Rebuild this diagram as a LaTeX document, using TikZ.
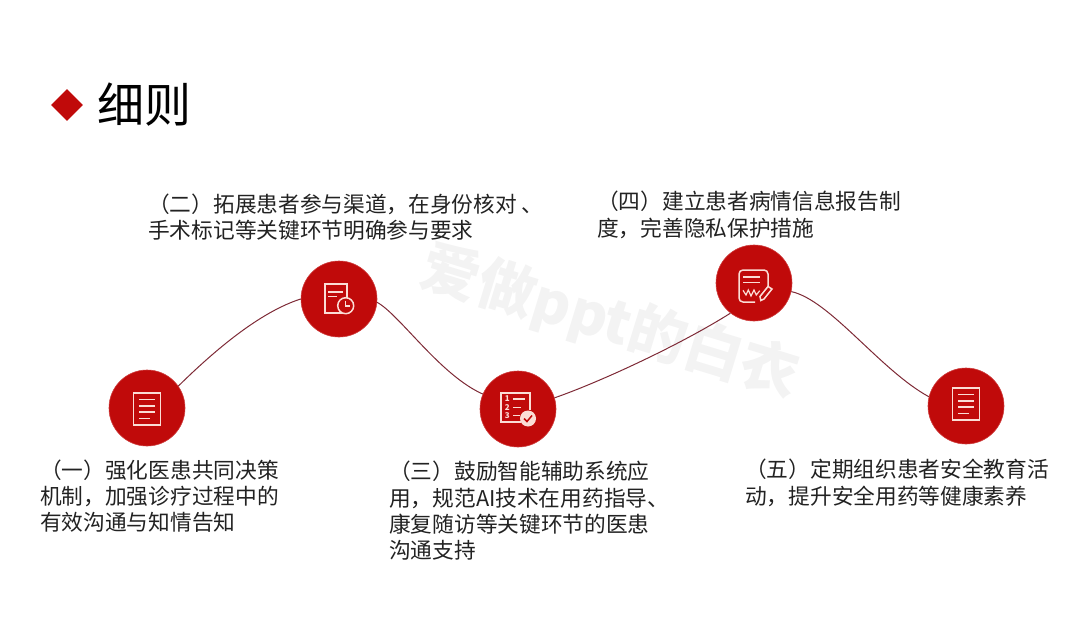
\documentclass[tikz,border=0pt]{standalone}
\usepackage{fontspec}
\setmainfont{Noto Sans CJK SC}
\usetikzlibrary{shapes.geometric}
\definecolor{deepred}{HTML}{C00A0A}
\definecolor{paleline}{HTML}{FBDDD6}
\definecolor{curvered}{HTML}{7E2A36}
\definecolor{bodyink}{HTML}{222222}
\definecolor{markgray}{HTML}{F3F3F3}
\tikzset{
	stepdot/.style = {circle, fill = deepred, draw = deepred!80!white, line width = 0.6pt, minimum size = 76pt, inner sep = 0pt},
	bodytext/.style = {anchor = west, align = left, inner sep = 0pt, text = bodyink, font = \fontsize{21.7}{26.3}\selectfont},
	curveline/.style = {draw = curvered, line width = 1pt},
	iconline/.style = {draw = paleline, line width = 1.5pt},
	listicon/.pic = {
		\draw [iconline] (-13.5,-16) rectangle (13.5,16);
		\draw [iconline, line width = 1.9pt] (-8,-9.5) -- (8,-9.5);
		\draw [iconline, line width = 1.9pt] (-8,-3.2) -- (8,-3.2);
		\draw [iconline, line width = 1.9pt] (-8,3.2) -- (8,3.2);
		\draw [iconline, line width = 1.9pt] (-8,9.5) -- (3,9.5);
	}
}
\begin{document}
\begin{tikzpicture} [x = 1pt, y = -1pt]
	\useasboundingbox (0,0) rectangle (1080,623);
	% watermark
	\node (mark) [rotate = -17, text = markgray, font = \fontsize{58}{58}\selectfont\bfseries, inner sep = 0pt] at (610,322) {爱做ppt的白衣};
	% title
	\node (bullet) [diamond, fill = deepred, minimum size = 32pt, inner sep = 0pt] at (67,105) {};
	\node (title) [anchor = west, inner sep = 0pt, text = black, font = \fontsize{47}{47}\selectfont] at (97,105) {细则};
	% steps
	\node (step1) [stepdot] at (147,408) {};
	\node (step2) [stepdot] at (339,299) {};
	\node (step3) [stepdot] at (518,409) {};
	\node (step4) [stepdot] at (754,283) {};
	\node (step5) [stepdot] at (966,406) {};
	\draw [curveline] (step1.35) .. controls (215,350) and (260,312) .. (step2.180);
	\draw [curveline] (step2.-5) .. controls (400,315) and (440,375) .. (step3.157);
	\draw [curveline] (step3.17) .. controls (600,382) and (680,345) .. (step4.232);
	\draw [curveline] (step4.-13) .. controls (830,300) and (880,370) .. (step5.166);
	% icons
	\pic at (147,409) {listicon};
	\pic at (966,404) {listicon};
	\scope [shift = {(339,299)}]
		\draw [iconline] (-14,-15) rectangle (8,14);
		\draw [iconline] (-11,-7) -- (4,-7);
		\draw [iconline] (-11,-2.3) -- (-2,-2.3);
		\draw [iconline, fill = deepred] (6.7,6.7) circle (8);
		\draw [iconline] (6.7,1.7) -- (6.7,7) -- (11,7);
	\endscope
	\scope [shift = {(518,409)}]
		\draw [iconline] (12,1) -- (12,-16) -- (-17,-16) -- (-17,13) -- (3,13);
		\draw [iconline] (-5,-10) -- (7,-10);
		\draw [iconline] (-5,-1.5) -- (3,-1.5);
		\draw [iconline] (-5,6.3) -- (2,6.3);
		\node (num1) [text = paleline, inner sep = 0pt, font = \fontsize{8}{8}\selectfont\bfseries] at (-10.7,-10) {1};
		\node (num2) [text = paleline, inner sep = 0pt, font = \fontsize{8}{8}\selectfont\bfseries] at (-10.7,-1.5) {2};
		\node (num3) [text = paleline, inner sep = 0pt, font = \fontsize{8}{8}\selectfont\bfseries] at (-10.7,6.3) {3};
		\fill [paleline] (10,9.5) circle (8);
		\draw [deepred, line width = 1.5pt] (6,9.5) -- (9,12.5) -- (14,6.5);
	\endscope
	\scope [shift = {(754,283)}]
		\draw [iconline, rounded corners = 4pt] (14,3) -- (14,-13) -- (-15,-13) -- (-15,19) -- (1,19);
		\draw [iconline] (-11,-6) -- (6,-6);
		\draw [iconline] (-11,-0.5) -- (6,-0.5);
		\draw [iconline, line width = 1.2pt] (-11,7.3) -- (-8,12) -- (-5.7,7) -- (-3,13) -- (0,7) -- (2.3,12) -- (5.7,7.7);
		\draw [iconline] (14,3.5) -- (6,13.5) -- (6.8,17.5) -- (10,16) -- (18,6) -- cycle;
	\endscope
	% texts
	\node (text1) [bodytext] at (40,496) {（一）强化医患共同决策\\机制，加强诊疗过程中的\\有效沟通与知情告知};
	\node (text2) [bodytext] at (148,217) {（二）拓展患者参与渠道，在身份核对 、\\手术标记等关键环节明确参与要求};
	\node (text3) [bodytext] at (389,511) {（三）鼓励智能辅助系统应\\用，规范AI技术在用药指导、\\康复随访等关键环节的医患\\沟通支持};
	\node (text4) [bodytext] at (597,215) {（四）建立患者病情信息报告制\\度，完善隐私保护措施};
	\node (text5) [bodytext] at (745,483) {（五）定期组织患者安全教育活\\动，提升安全用药等健康素养};
\end{tikzpicture}
\end{document}
